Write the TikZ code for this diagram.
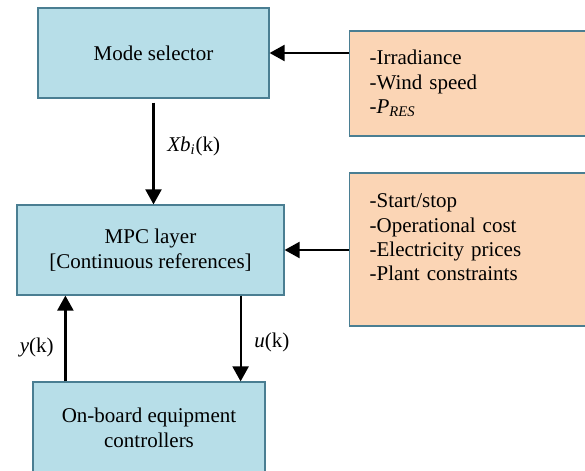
\documentclass[tikz,border=0pt]{standalone}
\usepackage{fontspec}
\setmainfont{Liberation Serif}
\usetikzlibrary{arrows.meta}
\definecolor{blockblue}{RGB}{183,222,232}
\definecolor{infoorange}{RGB}{251,213,181}
\definecolor{edgeblue}{RGB}{74,126,146}

\begin{document}
\begin{tikzpicture}[x=0.5pt, y=-0.5pt,
    font=\fontsize{10.5}{12.2}\selectfont,
    block/.style={draw=edgeblue, fill=blockblue, line width=0.6pt, align=center, inner sep=0pt},
    infobox/.style={draw=edgeblue, fill=infoorange, line width=0.6pt, align=left, text width=103pt, inner xsep=10pt, inner ysep=0pt, anchor=west},
    arr/.style={line width=1.1pt, -{Triangle[length=7.5pt,width=8pt]}}]
        \clip (0,0) rectangle (585,471);

        % Control blocks
        \node[block, minimum width=115.5pt, minimum height=45pt] (mode) at (153.5,53) {Mode selector};
        \node[block, minimum width=133.5pt, minimum height=45pt] (mpc) at (150.5,250) {MPC layer\\{}[Continuous references]};
        \node[block, minimum width=116pt, minimum height=46pt] (board) at (149,428) {On-board equipment\\controllers};

        % Input boxes
        \node[infobox, minimum height=52.5pt] (res) at (349,83.5) {-Irradiance\\-Wind speed\\-\textit{P}\textsubscript{\textit{RES}}};
        \node[infobox, minimum height=76.5pt] (plant) at (349,249.5) {-Start/stop\\-Operational cost\\-Electricity prices\\-Plant constraints\\\mbox{}};

        % Inputs to the blocks
        \draw[arr] (mode.east -| res.west) -- (mode.east);
        \draw[arr] (mpc.east -| plant.west) -- (mpc.east);

        % Signals between the blocks
        \draw[arr, shorten <=2pt] (mode.south) -- node[right, pos=0.45, xshift=3pt] {\textit{Xb}\textsubscript{\textit{i}}(k)} (mode.south |- mpc.north);
        \draw[arr] ([xshift=16.5pt]board.north west) -- node[left, pos=0.4, xshift=-2pt] {\textit{y}(k)} ([xshift=16.5pt]board.north west |- mpc.south);
        \draw[arr] ([xshift=-12.5pt]board.north east |- mpc.south) -- node[right, pos=0.55, xshift=3pt] {\textit{u}(k)} ([xshift=-12.5pt]board.north east);

    \end{tikzpicture}
\end{document}
